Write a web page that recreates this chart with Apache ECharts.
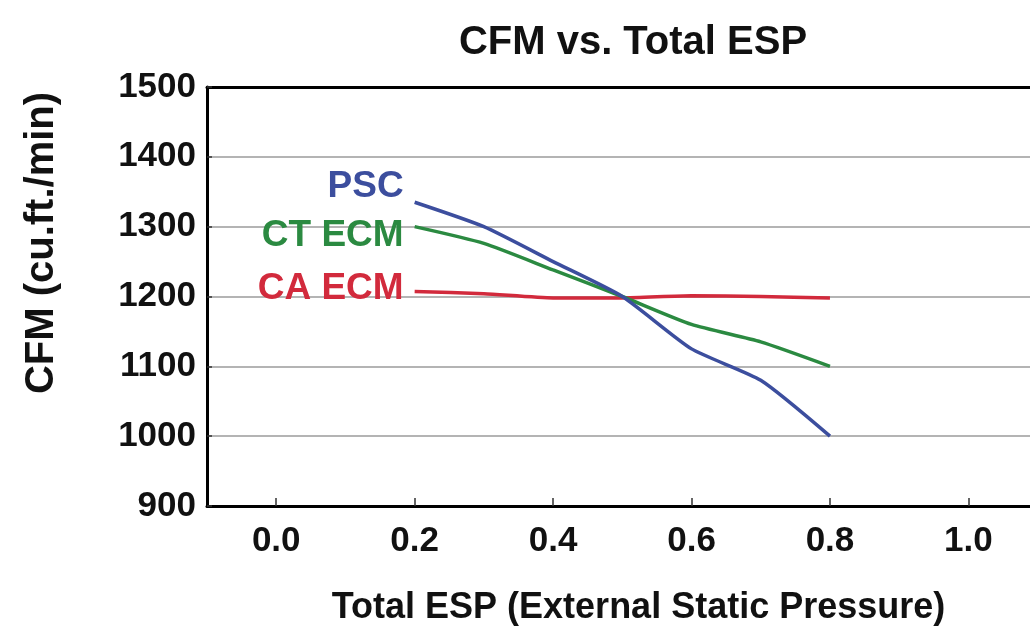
<!DOCTYPE html>
<html>
<head>
<meta charset="utf-8">
<script src="https://cdn.jsdelivr.net/npm/echarts@6/dist/echarts.min.js"></script>
<style>html,body{margin:0;padding:0;background:#fff;}#chart{width:1030px;height:631px;}</style>
</head>
<body>
<div id="chart"></div>
<script>
var espValues = [0.2, 0.3, 0.4, 0.5, 0.6, 0.7, 0.8];
var pscCfm = [1335, 1300, 1250, 1200, 1125, 1080, 1000];
var ctEcmCfm = [1300, 1276, 1238, 1200, 1160, 1135, 1100];
var caEcmCfm = [1207, 1204, 1198, 1198, 1201, 1200, 1198];
var xTickValues = [0.0, 0.2, 0.4, 0.6, 0.8, 1.0];
var seriesNames = ['PSC', 'CT ECM', 'CA ECM'];

var FONT = '"Liberation Sans", Arial, sans-serif';
var colors = ['#3c4e9e', '#2b8a41', '#d22a3c'];
var labelOffsets = [[0, -15], [0, 9], [0, -3]];

function build(vals, idx) {
  return vals.map(function (v, i) {
    var item = { value: [espValues[i], v] };
    if (i === 0) {
      item.label = {
        show: true, position: 'left', distance: 11,
        offset: labelOffsets[idx],
        formatter: seriesNames[idx],
        color: colors[idx], fontFamily: FONT, fontWeight: 'bold', fontSize: 37
      };
    }
    return item;
  });
}

var chart = echarts.init(document.getElementById('chart'), null, { renderer: 'canvas' });
chart.setOption({
  animation: false,
  backgroundColor: '#fff',
  title: {
    text: 'CFM vs. Total ESP', left: 628, top: 18, textAlign: 'center',
    textStyle: { fontFamily: FONT, fontWeight: 'bold', fontSize: 40, color: '#111' }
  },
  graphic: [{
    type: 'text', x: 42, y: 243, rotation: Math.PI / 2,
    style: { text: 'CFM (cu.ft./min)', font: 'bold 40px ' + FONT, fill: '#111', align: 'center', verticalAlign: 'middle' }
  }],
  grid: { left: 207, right: 0, top: 87, bottom: 124, containLabel: false },
  xAxis: [{
    type: 'value', min: -0.1, max: 1.089,
    name: 'Total ESP (External Static Pressure)', nameLocation: 'middle', nameGap: 84,
    nameTextStyle: { fontFamily: FONT, fontWeight: 'bold', fontSize: 36, color: '#111', padding: [0, 0, 0, 40] },
    axisLine: { show: true, onZero: false, lineStyle: { color: '#000', width: 3 } },
    axisTick: { show: true, inside: true, length: 8, customValues: xTickValues, lineStyle: { color: '#333', width: 1.5 } },
    axisLabel: {
      customValues: xTickValues, margin: 18,
      formatter: function (v) { return v.toFixed(1); },
      fontFamily: FONT, fontWeight: 'bold', fontSize: 35, color: '#111'
    },
    splitLine: { show: false }
  }, {
    type: 'value', position: 'top', min: -0.1, max: 1.089,
    axisLine: { show: true, onZero: false, lineStyle: { color: '#000', width: 3 } },
    axisTick: { show: false }, axisLabel: { show: false }, splitLine: { show: false }
  }],
  yAxis: {
    type: 'value', min: 900, max: 1500, interval: 100,
    axisLine: { show: true, onZero: false, lineStyle: { color: '#000', width: 3 } },
    axisTick: { show: true, inside: true, length: 5, lineStyle: { color: '#333', width: 1.5 } },
    axisLabel: {
      margin: 11, formatter: function (v) { return String(v); },
      fontFamily: FONT, fontWeight: 'bold', fontSize: 35, color: '#111'
    },
    splitLine: { show: true, lineStyle: { color: '#b4b4b4', width: 2 } }
  },
  series: [0, 1, 2].map(function (k) {
    var vals = [pscCfm, ctEcmCfm, caEcmCfm][k];
    return {
      name: seriesNames[k], type: 'line', xAxisIndex: 0,
      data: build(vals, k), smooth: 0.2, symbol: 'circle', symbolSize: 0, showSymbol: true,
      lineStyle: { color: colors[k], width: 3.5 }, itemStyle: { color: colors[k] }, z: 5 - k
    };
  })
});
</script>
</body>
</html>
